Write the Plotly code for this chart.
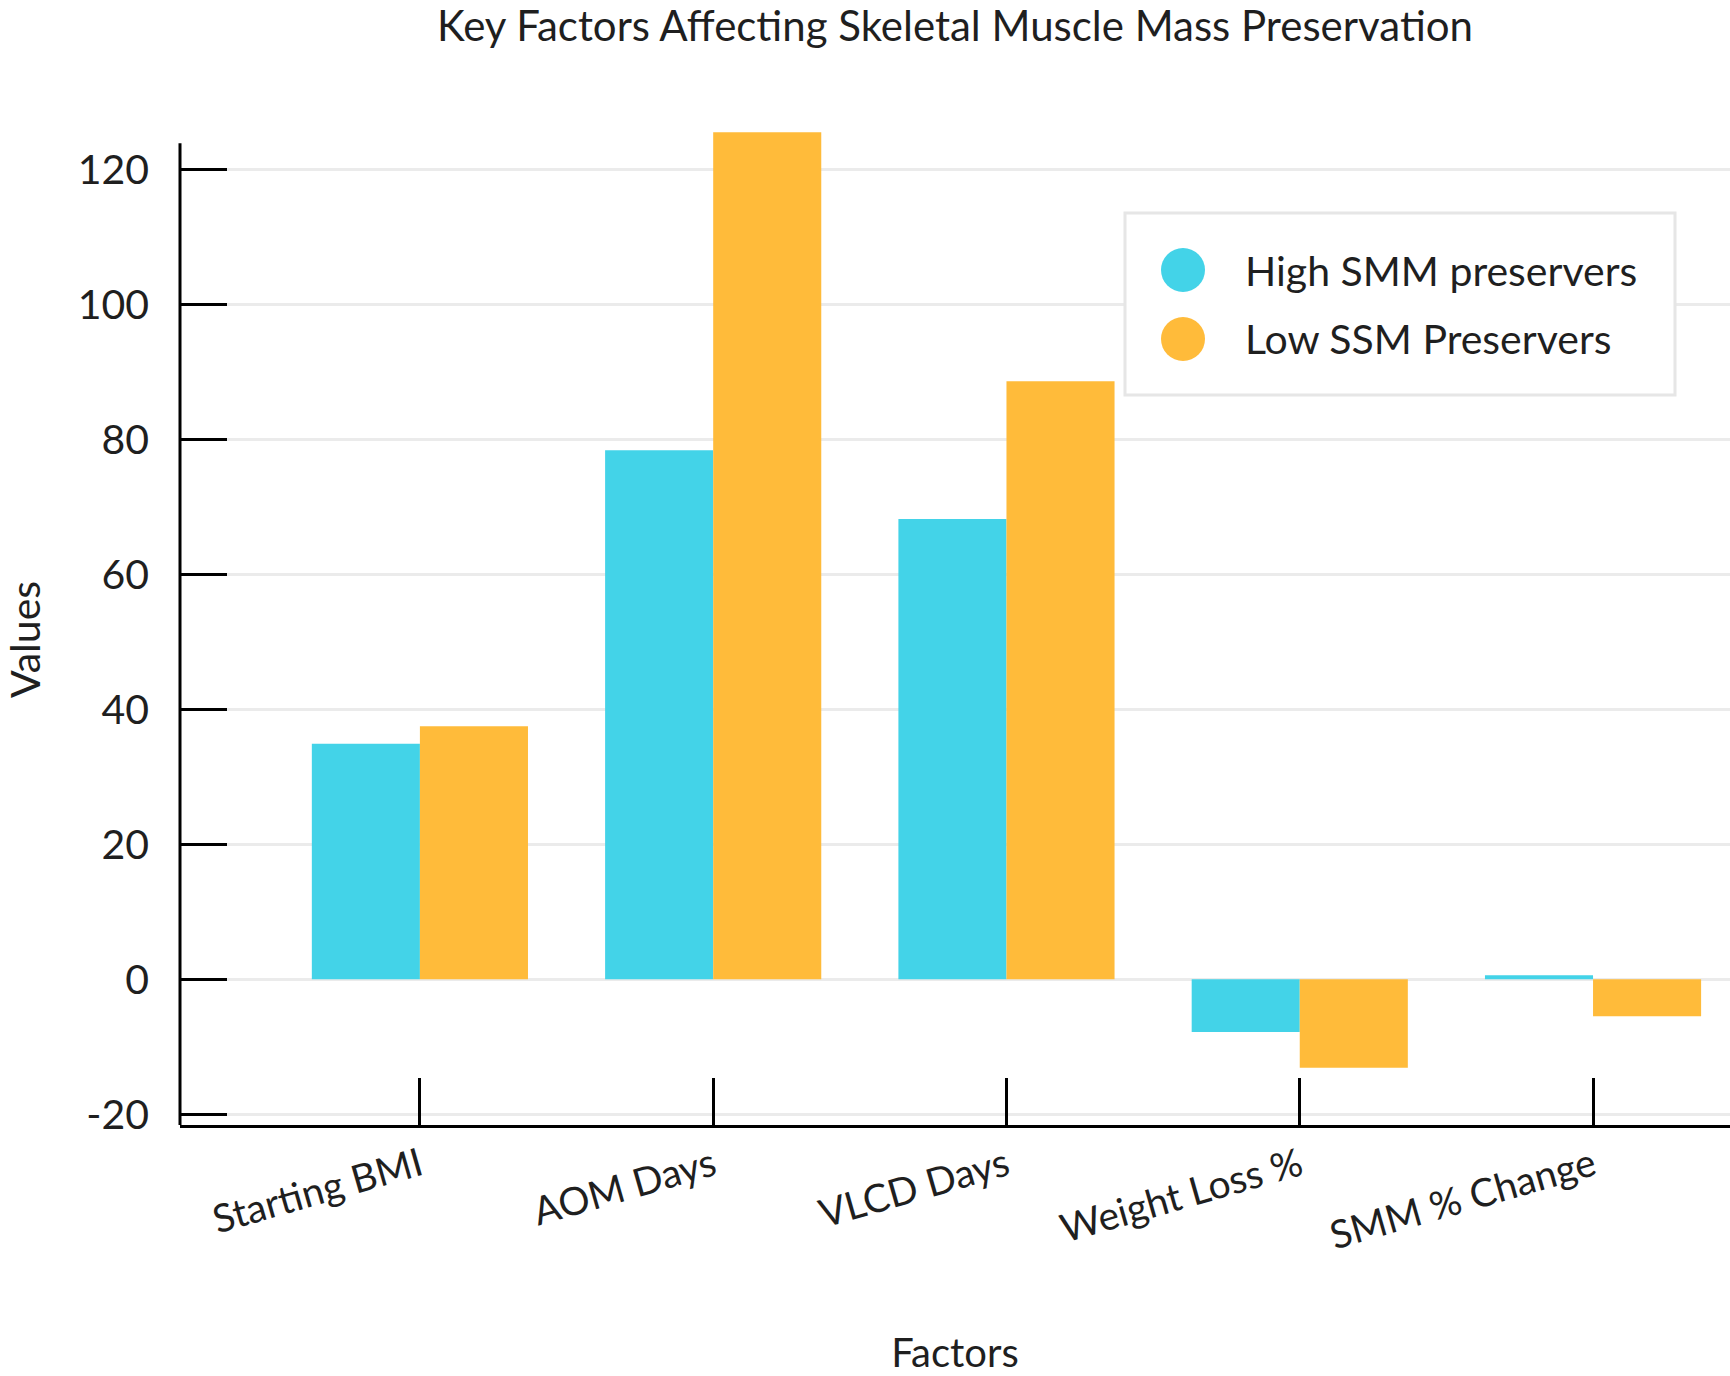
import plotly.graph_objects as go

# ---- data ----
categories = ["Starting BMI", "AOM Days", "VLCD Days", "Weight Loss %", "SMM % Change"]
high_smm = [34.9, 78.4, 68.2, -7.8, 0.6]
low_ssm = [37.5, 125.5, 88.6, -13.1, -5.5]
series_names = ["High SMM preservers", "Low SSM Preservers"]
y_ticks = [-20, 0, 20, 40, 60, 80, 100, 120]
y_tick_text = ["-20", "0", "20", "40", "60", "80", "100", "120"]

# ---- style ----
CYAN = "#43D3E8"
ORANGE = "#FFBB3A"
TEXT = "#1f1f1f"
GRID = "#ebebeb"
FONT = "Lato"

W, H = 1730, 1376
L, R, T, B = 180, 0, 129, 251
PW, PH = W - L - R, H - T - B


def px(x):
    return (x - L) / PW


def py(y):
    return (H - B - y) / PH


fig = go.Figure()
fig.add_trace(go.Bar(x=categories, y=high_smm, name=series_names[0],
                     marker=dict(color=CYAN, line=dict(width=0)), showlegend=False))
fig.add_trace(go.Bar(x=categories, y=low_ssm, name=series_names[1],
                     marker=dict(color=ORANGE, line=dict(width=0)), showlegend=False))

shapes = []
# y axis line (stops a little below the top of the plotting area)
shapes.append(dict(type="line", xref="paper", yref="y", x0=0, x1=0, y0=-21.6, y1=123.9,
                   line=dict(color="black", width=3), layer="above"))
# legend box
shapes.append(dict(type="rect", xref="paper", yref="paper",
                   x0=px(1125), x1=px(1675), y0=py(395), y1=py(213),
                   line=dict(color="#e6e6e6", width=3), fillcolor="white", layer="above"))
annotations = []
for i, (name, col) in enumerate(zip(series_names, [CYAN, ORANGE])):
    cy = 270 + i * 69
    cx, r = 1183, 22
    shapes.append(dict(type="circle", xref="paper", yref="paper",
                       x0=px(cx - r), x1=px(cx + r), y0=py(cy + r), y1=py(cy - r),
                       fillcolor=col, line=dict(width=0), layer="above"))
    annotations.append(dict(text=name, xref="paper", yref="paper", x=px(1243), y=py(cy),
                            xanchor="left", yanchor="middle", showarrow=False,
                            font=dict(family=FONT, size=41, color=TEXT)))

# y axis title
annotations.append(dict(text="Values", xref="paper", yref="paper", x=px(24), y=py(640),
                        xanchor="center", yanchor="middle", textangle=-90, showarrow=False,
                        font=dict(family=FONT, size=41, color=TEXT)))

fig.update_layout(
    width=W, height=H,
    margin=dict(l=L, r=R, t=T, b=B, autoexpand=False),
    paper_bgcolor="white", plot_bgcolor="white",
    barmode="group", bargap=0.263, bargroupgap=0,
    font=dict(family=FONT, color=TEXT, size=38),
    title=dict(text="Key Factors Affecting Skeletal Muscle Mass Preservation",
               x=0.5, xref="paper", xanchor="center",
               y=1 - 26 / H, yref="container", yanchor="middle",
               font=dict(family=FONT, size=42, color=TEXT)),
    showlegend=False,
    shapes=shapes,
    annotations=annotations,
)
fig.update_xaxes(
    range=[-0.818, 4.467],
    showline=True, linecolor="black", linewidth=3,
    ticks="inside", ticklen=47, tickwidth=2.5, tickcolor="black",
    tickangle=-16, tickfont=dict(family=FONT, size=39, color=TEXT),
    showgrid=False,
    title=dict(text="Factors", font=dict(family=FONT, size=40, color=TEXT), standoff=104),
)
fig.update_yaxes(
    range=[-21.6, 126],
    tickvals=y_ticks, ticktext=y_tick_text,
    showline=False,
    ticks="inside", ticklen=47, tickwidth=3, tickcolor="black",
    tickfont=dict(family=FONT, size=41, color=TEXT),
    showgrid=True, gridcolor=GRID, gridwidth=3,
    zeroline=False,
    ticklabelstandoff=30,
)

fig.write_html("out.html")
